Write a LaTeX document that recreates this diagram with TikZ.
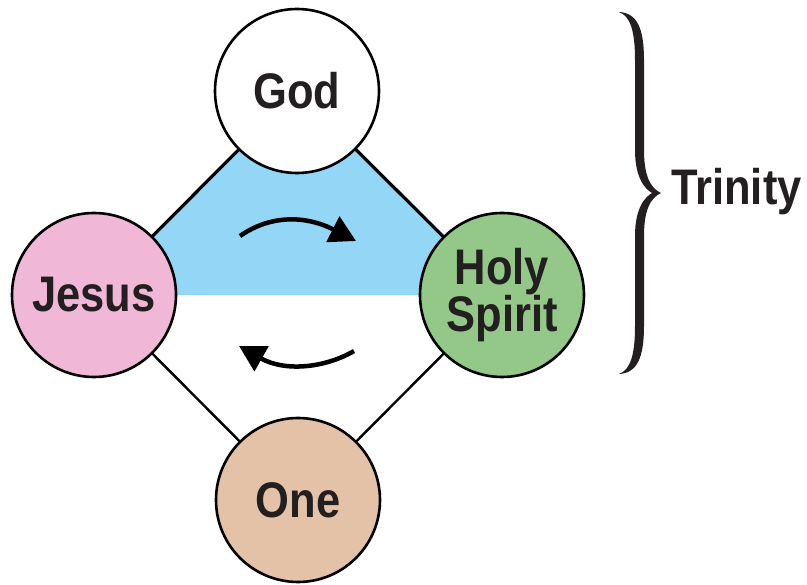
\documentclass[tikz,border=0pt]{standalone}
\usepackage{fontspec}
\setmainfont{Liberation Sans}[FakeStretch=0.87]
\usetikzlibrary{arrows.meta,backgrounds}
\definecolor{skyblue}{HTML}{93D6F5}
\definecolor{pinkc}{HTML}{F0B7D7}
\definecolor{greenc}{HTML}{93C888}
\definecolor{tanc}{HTML}{E4C2A7}
\definecolor{inkc}{HTML}{231F20}
\tikzset{
  person/.style={circle, draw=black, line width=2.6pt, minimum size=164pt, inner sep=0pt,
    font=\bfseries\fontsize{50}{44}\selectfont, text=inkc, align=center},
  upperline/.style={line width=3.2pt, draw=black},
  lowerline/.style={line width=2.4pt, draw=black},
  flowarrow/.style={line width=4.5pt, draw=black, -{Triangle[length=26pt,width=28pt]}},
}
\begin{document}
\begin{tikzpicture}[x=1pt,y=-1pt]
\useasboundingbox (0,0) rectangle (807,585);
\node[person, fill=white] (god) at (297,91) {God};
\node[person, fill=pinkc] (jesus) at (94,295) {Jesus};
\node[person, fill=greenc] (spirit) at (502,295) {Holy\\Spirit};
\node[person, fill=tanc] (one) at (298,500) {One};
\begin{scope}[on background layer]
  \fill[skyblue] (god.center) -- (jesus.center) -- (spirit.center) -- cycle;
  \draw[upperline] (god.center) -- (jesus.center);
  \draw[upperline] (god.center) -- (spirit.center);
  \draw[lowerline] (jesus.center) -- (one.center);
  \draw[lowerline] (spirit.center) -- (one.center);
\end{scope}
\coordinate (a1s) at (240,236);
\coordinate (a1e) at (356,241);
\coordinate (a2s) at (354,351);
\coordinate (a2e) at (239,346);
\draw[flowarrow] (a1s) .. controls (270,215) and (305,215) .. (a1e);
\draw[flowarrow] (a2s) .. controls (325,368) and (285,372) .. (a2e);
% brace
\fill[inkc] (619,12) .. controls (637,13) and (644,28) .. (644,60) -- (644,150)
  .. controls (644,175) and (650,188) .. (661,193)
  .. controls (650,198) and (644,211) .. (644,236) -- (644,326)
  .. controls (644,358) and (637,373) .. (619,374)
  .. controls (630,370) and (635,356) .. (635,326) -- (635,236)
  .. controls (635,208) and (645,197) .. (652,193)
  .. controls (645,189) and (635,178) .. (635,150) -- (635,60)
  .. controls (635,30) and (630,16) .. (619,12) -- cycle;
\node[anchor=base west, inner sep=0pt, font=\bfseries\fontsize{50}{44}\selectfont, text=inkc] (trinity) at (671,205) {Trinity};
\end{tikzpicture}
\end{document}
